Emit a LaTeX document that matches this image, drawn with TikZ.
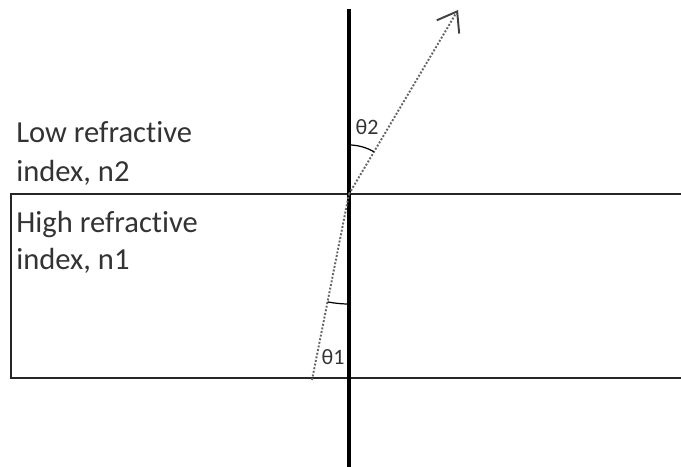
\documentclass[tikz,border=0pt]{standalone}
\usepackage{fontspec}
\setmainfont[Ligatures={NoCommon}]{Carlito}
\usetikzlibrary{arrows.meta}
\tikzset{
  label text/.style={anchor=base west,inner sep=0pt,text=black!80,font=\fontsize{17.4}{21}\selectfont},
  angle text/.style={inner sep=0pt,text=black!80,font=\fontsize{12.5}{14}\selectfont},
  ray/.style={densely dotted,gray!80!black,line width=1.1pt},
  interface/.style={line width=1pt,black!85}
}
\begin{document}
\begin{tikzpicture}[x=0.02cm,y=0.02cm]
  \useasboundingbox (0,0) rectangle (681,467);
  % Points
  \coordinate (top) at (349,458);
  \coordinate (bottom) at (349,0);
  \coordinate (O) at (349,273);
  \coordinate (boxtl) at (11,273);
  \coordinate (boxbl) at (11,89);
  \coordinate (boxtr) at (681,273);
  \coordinate (boxbr) at (681,89);
  \coordinate (src) at (312,87);
  \coordinate (tip) at (458,457);
  % Slab of high index
  \draw[interface] (boxtr) -- (boxtl) -- (boxbl) -- (boxbr);
  % Normal
  \draw[line width=1.8pt] (top) -- (bottom);
  % Rays
  \draw[ray] (src) -- (O);
  \draw[ray,-{Straight Barb[length=3.6mm,width=5.2mm,line width=1.1pt,black!75]}] (O) -- (tip);
  % Angles
  \draw[line width=0.7pt] ([shift={(90:49)}]O) arc[start angle=90,end angle=59.4,radius=49];
  \draw[line width=0.7pt] ([shift={(258.8:110)}]O) arc[start angle=258.8,end angle=270,radius=110];
  \node[angle text] (th2) at (367,340) {θ2};
  \node[angle text] (th1) at (333,110) {θ1};
  % Media labels
  \node[label text] (low1) at (16,324) {Low refractive};
  \node[label text] (low2) at (16,285) {index, n2};
  \node[label text] (high1) at (16,234) {High refractive};
  \node[label text] (high2) at (16,197) {index, n1};
\end{tikzpicture}
\end{document}
